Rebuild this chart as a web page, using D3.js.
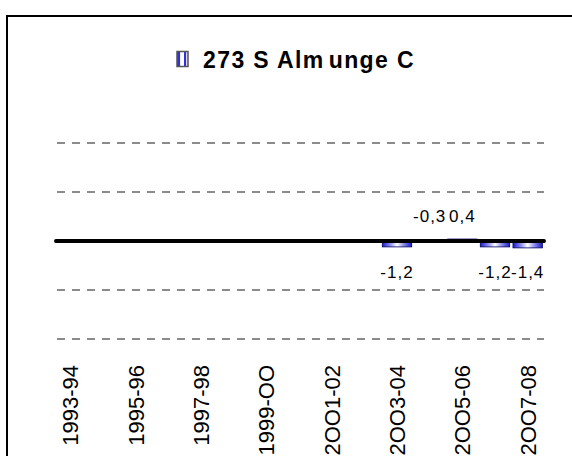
<!DOCTYPE html>
<html>
<head>
<meta charset="utf-8">
<script src="https://cdn.jsdelivr.net/npm/d3@7"></script>
<style>
  html, body { margin: 0; padding: 0; background: #fff; }
  svg { display: block; }
</style>
</head>
<body>
<svg id="chart" width="572" height="456"></svg>
<script>
// Seasons on the category axis
const seasons = ["1993-94","1994-95","1995-96","1996-97","1997-98","1998-99","1999-00",
  "2000-01","2001-02","2002-03","2003-04","2004-05","2005-06","2006-07","2007-08"];
// Values per season (null = no value)
const values = [null,null,null,null,null,null,null,null,null,null,-1.2,-0.3,0.4,-1.2,-1.4];
// Axis labels shown every other season
const tickLabels = ["1993-94","1995-96","1997-98","1999-OO","2OO1-02","2OO3-04","2OO5-06","2OO7-08"];
const gridValues = [-20, -10, 10, 20];
const seriesName = "273 S Almunge C";

const svg = d3.select("#chart");
const font = "Liberation Sans, Arial, sans-serif";

// outer frame
svg.append("rect")
  .attr("x", 7).attr("y", 16).attr("width", 600).attr("height", 500)
  .attr("fill", "#fff").attr("stroke", "#000").attr("stroke-width", 2);

const x = d3.scaleBand().domain(seasons).range([54, 544]).paddingInner(0.1).paddingOuter(0.05);
const y = d3.scaleLinear().domain([-30, 30]).range([388.6, 93.4]);

// bar fill
const defs = svg.append("defs");
const grad = defs.append("linearGradient").attr("id", "barFill")
  .attr("x1", "0%").attr("x2", "100%").attr("y1", "0%").attr("y2", "0%");
[[0, "#1a1acc"], [0.3, "#9999ee"], [0.5, "#ffffff"], [0.7, "#9999ee"], [1, "#1a1acc"]]
  .forEach(([o, c]) => grad.append("stop").attr("offset", o).attr("stop-color", c));
const iconGrad = defs.append("linearGradient").attr("id", "iconFill")
  .attr("x1", "0%").attr("x2", "100%");
[[0, "#3030e0"], [0.3, "#3030e0"], [0.32, "#ffffff"], [0.62, "#ffffff"], [0.64, "#3030e0"], [0.82, "#3030e0"], [0.84, "#d8d8ff"], [1, "#d8d8ff"]]
  .forEach(([o, c]) => iconGrad.append("stop").attr("offset", o).attr("stop-color", c));

// gridlines
svg.append("g").selectAll("line").data(gridValues).join("line")
  .attr("x1", 57).attr("x2", 544)
  .attr("y1", d => Math.round(y(d))).attr("y2", d => Math.round(y(d)))
  .attr("stroke", "#666").attr("stroke-width", 1.6).attr("stroke-dasharray", "8,7");

const data = seasons.map((s, i) => ({ s, v: values[i] })).filter(d => d.v !== null);

// bars
svg.append("g").selectAll("rect").data(data).join("rect")
  .attr("x", d => x(d.s))
  .attr("width", x.bandwidth())
  .attr("y", d => Math.min(y(d.v), y(0)))
  .attr("height", d => Math.abs(y(d.v) - y(0)))
  .attr("fill", "url(#barFill)")
  .attr("stroke", "#000066").attr("stroke-width", 0.8);

// zero axis line
svg.append("line")
  .attr("x1", 56).attr("x2", 544).attr("y1", y(0)).attr("y2", y(0))
  .attr("stroke", "#000").attr("stroke-width", 4).attr("stroke-linecap", "round");

// value labels
const fmt = v => String(v).replace(".", ",");
svg.append("g").selectAll("text").data(data).join("text")
  .attr("x", d => x(d.s) + x.bandwidth() / 2)
  .attr("y", d => d.v >= -0.5 ? y(0) - 19 : y(0) + 37)
  .attr("text-anchor", "middle")
  .attr("font-family", font)
  .attr("font-size", 17).attr("letter-spacing", 1)
  .attr("fill", "#000")
  .text(d => fmt(d.v));

// category labels
const xAxis = d3.axisBottom(x)
  .tickValues(seasons.filter((s, i) => i % 2 === 0))
  .tickFormat((s) => tickLabels[seasons.indexOf(s) / 2])
  .tickSize(0);
const gx = svg.append("g").attr("transform", "translate(0,365)").call(xAxis);
gx.select(".domain").remove();
gx.selectAll("text")
  .attr("transform", "rotate(-90)")
  .attr("x", 0).attr("y", 0).attr("dy", "0.36em")
  .attr("text-anchor", "end")
  .attr("font-family", font)
  .attr("font-size", 22)
  .attr("fill", "#000");

// legend / title
const title = svg.append("g");
title.append("rect")
  .attr("x", 177).attr("y", 51.5).attr("width", 11).attr("height", 15)
  .attr("fill", "url(#iconFill)").attr("stroke", "#555").attr("stroke-width", 1.5);
const t = title.append("text")
  .attr("x", 203).attr("y", 68)
  .attr("font-family", font)
  .attr("font-size", 23).attr("font-weight", "bold")
  .attr("letter-spacing", 1.4)
  .attr("fill", "#000");
t.append("tspan").text("273 S Alm");
t.append("tspan").attr("dx", 4).text("unge C");
</script>
</body>
</html>
